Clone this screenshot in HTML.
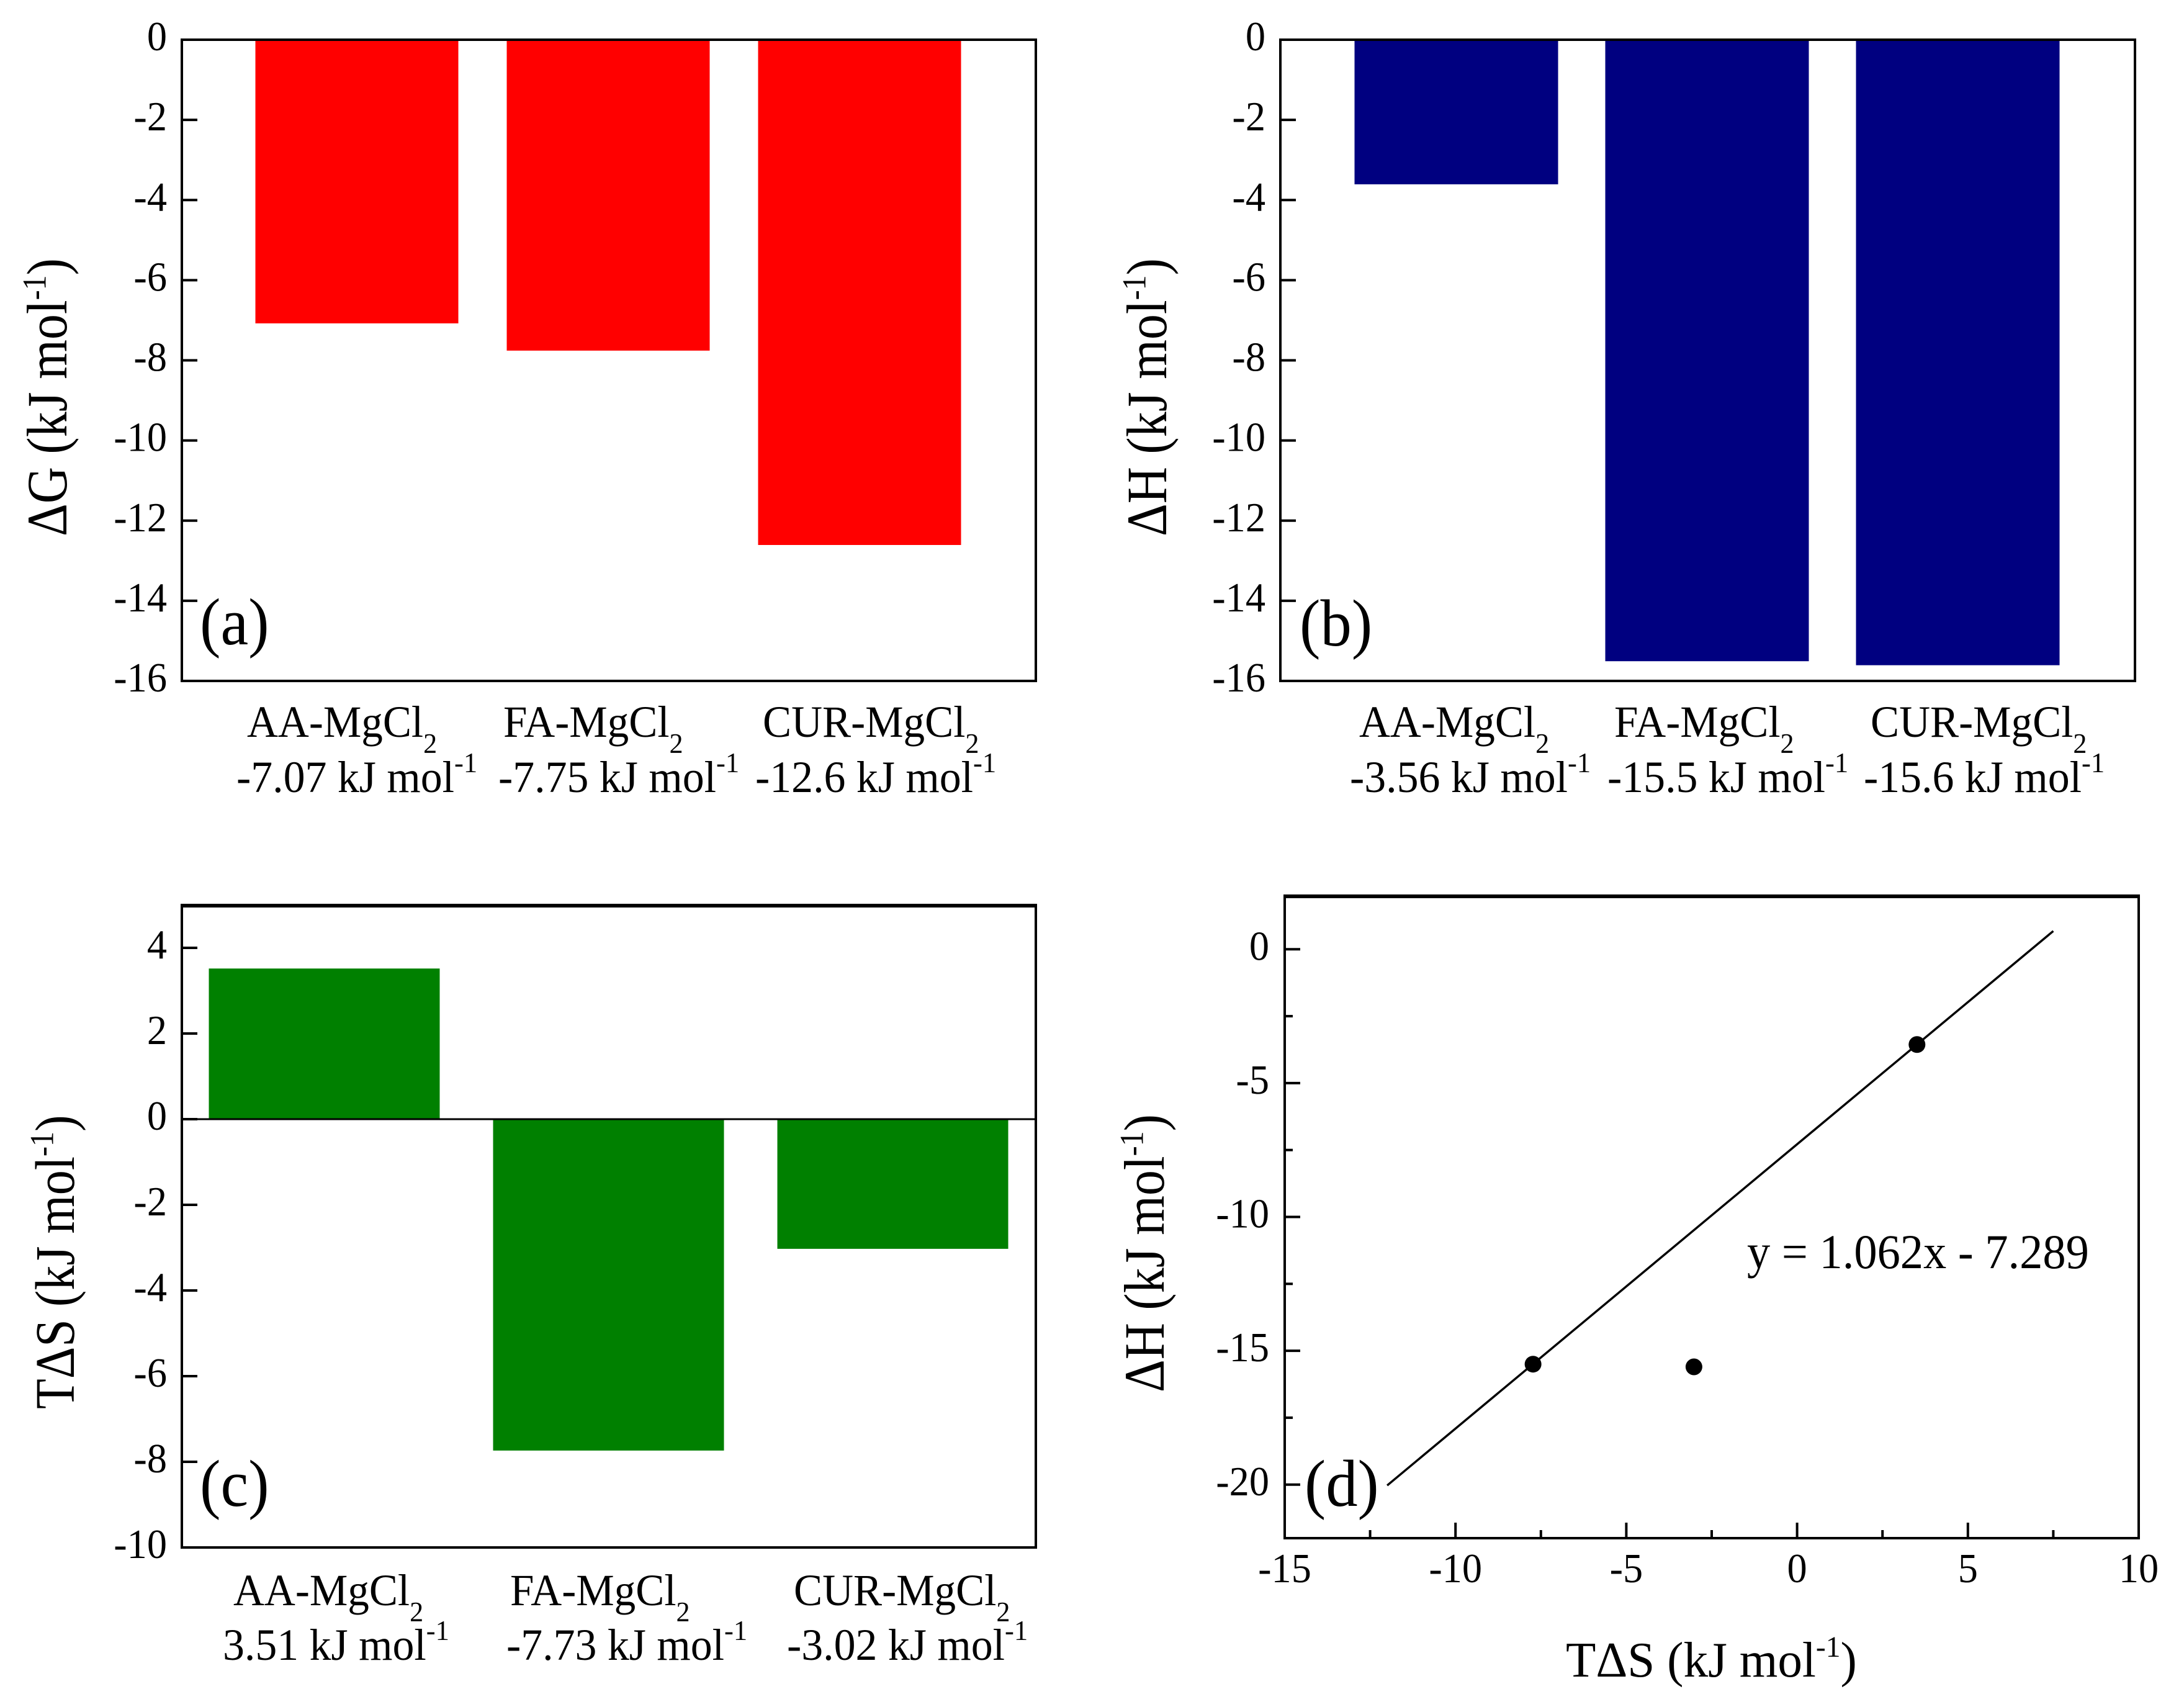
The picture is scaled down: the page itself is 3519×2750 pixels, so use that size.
<!DOCTYPE html>
<html>
<head>
<meta charset="utf-8">
<title>Thermodynamic parameters chart</title>
<style>
html,body{margin:0;padding:0;background:#fff;}
svg{display:block;}
text{font-family:"Liberation Serif",serif;fill:#000;}
</style>
</head>
<body>
<svg id="chart" xmlns="http://www.w3.org/2000/svg" width="3519" height="2750" viewBox="0 0 3519 2750">
<rect width="3519" height="2750" fill="#fff"/>
<g id="marks"></g>

<rect x="293" y="64" width="1376" height="1033" fill="none" stroke="#000" stroke-width="4"/>
<rect x="2063" y="64" width="1377" height="1033" fill="none" stroke="#000" stroke-width="4"/>
<rect x="293" y="1458" width="1376" height="1035" fill="none" stroke="#000" stroke-width="4"/>
<line x1="291" y1="1459" x2="1671" y2="1459" stroke="#000" stroke-width="6"/>
<rect x="2070" y="1443" width="1376" height="1035" fill="none" stroke="#000" stroke-width="4"/>
<line x1="2068" y1="1444" x2="3448" y2="1444" stroke="#000" stroke-width="6"/>

<text transform="translate(107,864) rotate(-90) scale(1,1.12)" font-size="82">ΔG (kJ mol<tspan dy="-30" font-size="48">-1</tspan><tspan dy="30">)</tspan></text>
<text transform="translate(1879,864) rotate(-90) scale(1,1.12)" font-size="82">ΔH (kJ mol<tspan dy="-30" font-size="48">-1</tspan><tspan dy="30">)</tspan></text>
<text transform="translate(119,2270) rotate(-90) scale(1,1.12)" font-size="80">TΔS (kJ mol<tspan dy="-30" font-size="48">-1</tspan><tspan dy="30">)</tspan></text>
<text transform="translate(1875,2243) rotate(-90) scale(1,1.12)" font-size="82">ΔH (kJ mol<tspan dy="-30" font-size="48">-1</tspan><tspan dy="30">)</tspan></text>
<text transform="translate(2523,2701) scale(0.99,1)" font-size="80">TΔS (kJ mol<tspan dy="-32" font-size="48">-1</tspan><tspan dy="32">)</tspan></text>

<text transform="translate(322,1038) scale(0.94,1)" font-size="107">(a)</text>
<text transform="translate(2094,1040) scale(0.94,1)" font-size="107">(b)</text>
<text transform="translate(322,2426) scale(0.94,1)" font-size="107">(c)</text>
<text transform="translate(2102,2426) scale(0.96,1)" font-size="107">(d)</text>
<text transform="translate(2815,2043) scale(0.955,1)" font-size="78">y = 1.062x - 7.289</text>
</svg>

<script>
// ---- data ----
const categoriesA = ['AA-MgCl2', 'FA-MgCl2', 'CUR-MgCl2'];
const categoriesB = ['AA-MgCl2', 'FA-MgCl2', 'CUR-MgCl2'];
const categoriesC = ['AA-MgCl2', 'FA-MgCl2', 'CUR-MgCl2'];
const valuesA = [-7.07, -7.75, -12.6];
const valuesB = [-3.6, -15.5, -15.6];
const valuesC = [3.51, -7.73, -3.02];
const printedA = ['-7.07 kJ mol', '-7.75 kJ mol', '-12.6 kJ mol'];
const printedB = ['-3.56 kJ mol', '-15.5 kJ mol', '-15.6 kJ mol'];
const printedC = ['3.51 kJ mol', '-7.73 kJ mol', '-3.02 kJ mol'];
const ticksA = [0, -2, -4, -6, -8, -10, -12, -14, -16];
const ticksB = [0, -2, -4, -6, -8, -10, -12, -14, -16];
const ticksC = [4, 2, 0, -2, -4, -6, -8, -10];
const scatterX = [3.51, -7.73, -3.02];
const scatterY = [-3.56, -15.5, -15.6];
const fitX = [-12, 7.5];
const fitY = [-20.03, 0.68];
const ticksDX = [-15, -10, -5, 0, 5, 10];
const minorDX = [-12.5, -7.5, -2.5, 2.5, 7.5];
const ticksDY = [0, -5, -10, -15, -20];
const minorDY = [-2.5, -7.5, -12.5, -17.5];

// ---- layout ----
const panelA = {id:'a', left:293, right:1669, top:64, bottom:1097, yMin:-16, yMax:0, firstBar:412, step:405, barW:326, color:'#ff0000',
  line1:[398, 811, 1229], line2:[381, 803, 1217], base1:1187, base2:1276};
const panelB = {id:'b', left:2063, right:3440, top:64, bottom:1097, yMin:-16, yMax:0, firstBar:2183, step:404, barW:327, color:'#000080',
  line1:[2190, 2601, 3014], line2:[2175, 2590, 3003], base1:1187, base2:1276};
const panelC = {id:'c', left:293, right:1669, top:1458, bottom:2493, yMin:-10, yMax:5, firstBar:337, step:458, barW:371, color:'#008000',
  line1:[376, 822, 1279], line2:[359, 816, 1268], base1:2586, base2:2674};
const panelD = {left:2070, right:3446, top:1443, bottom:2478, xMin:-15, xMax:10, yMin:-22, yMax:2};

const NS = 'http://www.w3.org/2000/svg';
const marks = document.getElementById('marks');

function yScale(p, v) {
  return p.top + (p.yMax - v) / (p.yMax - p.yMin) * (p.bottom - p.top);
}
function xScaleD(v) {
  return panelD.left + (v - panelD.xMin) / (panelD.xMax - panelD.xMin) * (panelD.right - panelD.left);
}
function bandLeft(p, i) {
  return p.firstBar + i * p.step;
}
function addLine(name, x1, y1, x2, y2, w) {
  const el = document.createElementNS(NS, 'line');
  
  
  el.setAttribute('x1', x1);
  el.setAttribute('y1', y1);
  el.setAttribute('x2', x2);
  el.setAttribute('y2', y2);
  el.setAttribute('stroke', '#000');
  el.setAttribute('stroke-width', w);
  marks.appendChild(el);
  return el;
}
function addText(name, str, x, y, size, sx, anchor) {
  const el = document.createElementNS(NS, 'text');
  
  
  el.setAttribute('transform', 'translate(' + x + ',' + y + ') scale(' + sx + ',1)');
  el.setAttribute('font-size', size);
  el.setAttribute('text-anchor', anchor);
  el.textContent = str;
  marks.appendChild(el);
  return el;
}
function addSmall(el, str, dy, size) {
  const t = document.createElementNS(NS, 'tspan');
  t.setAttribute('dy', dy);
  t.setAttribute('font-size', size);
  t.textContent = str;
  el.appendChild(t);
}
function drawBarPanel(p, categories, values, printed, ticks) {
  values.forEach(function (v, i) {
    const y0 = yScale(p, 0);
    const y1 = yScale(p, v);
    const r = document.createElementNS(NS, 'rect');
    
    
    r.setAttribute('x', bandLeft(p, i));
    r.setAttribute('y', Math.min(y0, y1));
    r.setAttribute('width', p.barW);
    r.setAttribute('height', Math.abs(y1 - y0));
    r.setAttribute('fill', p.color);
    r.setAttribute('stroke', p.color);
    r.setAttribute('stroke-width', 1);
    marks.appendChild(r);

    const name = categories[i];
    const head = addText('category-label-' + p.id + '-' + (i + 1), name.slice(0, -1), p.line1[i], p.base1, 72, 0.96, 'start');
    addSmall(head, name.slice(-1), 26, 46);
    const val = addText('value-label-' + p.id + '-' + (i + 1), printed[i], p.line2[i], p.base2, 72, 0.97, 'start');
    addSmall(val, '-1', -32, 46);
  });
  ticks.forEach(function (t) {
    const y = yScale(p, t);
    addLine('y-tick-' + p.id + '-' + t, p.left, y, p.left + 25, y, 4);
    addText('y-tick-label-' + p.id + '-' + t, String(t), p.left - 24, y + 17, 67, 0.96, 'end');
  });
}

drawBarPanel(panelA, categoriesA, valuesA, printedA, ticksA);
drawBarPanel(panelB, categoriesB, valuesB, printedB, ticksB);
drawBarPanel(panelC, categoriesC, valuesC, printedC, ticksC);
addLine('zero-line', panelC.left, yScale(panelC, 0), panelC.right, yScale(panelC, 0), 3);

// panel d axes
ticksDX.forEach(function (t) {
  const x = xScaleD(t);
  addLine('x-tick-d-' + t, x, panelD.bottom, x, panelD.bottom - 25, 4);
  addText('x-tick-label-d-' + t, String(t), x, 2549, 67, 0.96, 'middle');
});
minorDX.forEach(function (t) {
  const x = xScaleD(t);
  addLine('x-minor-tick-d-' + t, x, panelD.bottom, x, panelD.bottom - 13, 4);
});
ticksDY.forEach(function (t) {
  const y = yScale(panelD, t);
  addLine('y-tick-d-' + t, panelD.left, y, panelD.left + 25, y, 4);
  addText('y-tick-label-d-' + t, String(t), panelD.left - 25, y + 17, 67, 0.96, 'end');
});
minorDY.forEach(function (t) {
  const y = yScale(panelD, t);
  addLine('y-minor-tick-d-' + t, panelD.left, y, panelD.left + 13, y, 4);
});

// panel d fit line and points
addLine('fit-line', xScaleD(fitX[0]), yScale(panelD, fitY[0]), xScaleD(fitX[1]), yScale(panelD, fitY[1]), 3.5);
scatterX.forEach(function (x, i) {
  const c = document.createElementNS(NS, 'circle');
  
  
  c.setAttribute('cx', xScaleD(x));
  c.setAttribute('cy', yScale(panelD, scatterY[i]));
  c.setAttribute('r', 13.5);
  c.setAttribute('fill', '#000');
  marks.appendChild(c);
});
</script>
</body>
</html>
